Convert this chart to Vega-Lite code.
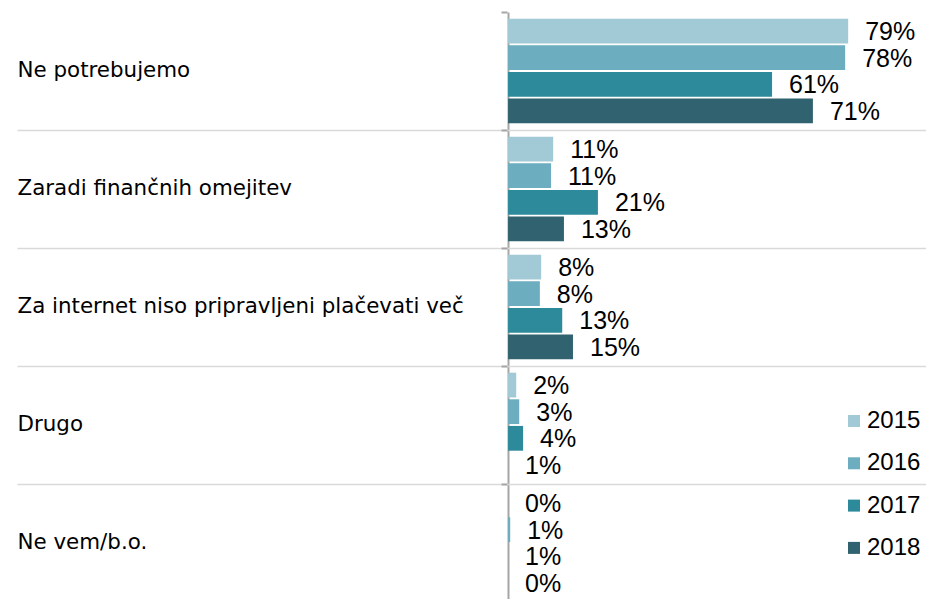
{
  "$schema": "https://vega.github.io/schema/vega-lite/v6.json",
  "autosize": "none",
  "width": 909,
  "height": 590,
  "padding": {"left": 17, "top": 12, "right": 0, "bottom": 0},
  "background": "white",
  "config": {"view": {"stroke": null}},
  "data": {"values": [
      {"cat": "Ne potrebujemo", "year": "2015", "value": 79.1, "label": "79%"},
      {"cat": "Ne potrebujemo", "year": "2016", "value": 78.4, "label": "78%"},
      {"cat": "Ne potrebujemo", "year": "2017", "value": 61.4, "label": "61%"},
      {"cat": "Ne potrebujemo", "year": "2018", "value": 70.9, "label": "71%"},
      {"cat": "Zaradi finančnih omejitev", "year": "2015", "value": 10.5, "label": "11%"},
      {"cat": "Zaradi finančnih omejitev", "year": "2016", "value": 10.0, "label": "11%"},
      {"cat": "Zaradi finančnih omejitev", "year": "2017", "value": 20.9, "label": "21%"},
      {"cat": "Zaradi finančnih omejitev", "year": "2018", "value": 13.0, "label": "13%"},
      {"cat": "Za internet niso pripravljeni plačevati več", "year": "2015", "value": 7.7, "label": "8%"},
      {"cat": "Za internet niso pripravljeni plačevati več", "year": "2016", "value": 7.4, "label": "8%"},
      {"cat": "Za internet niso pripravljeni plačevati več", "year": "2017", "value": 12.6, "label": "13%"},
      {"cat": "Za internet niso pripravljeni plačevati več", "year": "2018", "value": 15.1, "label": "15%"},
      {"cat": "Drugo", "year": "2015", "value": 1.9, "label": "2%"},
      {"cat": "Drugo", "year": "2016", "value": 2.6, "label": "3%"},
      {"cat": "Drugo", "year": "2017", "value": 3.5, "label": "4%"},
      {"cat": "Drugo", "year": "2018", "value": 0, "label": "1%"},
      {"cat": "Ne vem/b.o.", "year": "2015", "value": 0, "label": "0%"},
      {"cat": "Ne vem/b.o.", "year": "2016", "value": 0.5, "label": "1%"},
      {"cat": "Ne vem/b.o.", "year": "2017", "value": 0, "label": "1%"},
      {"cat": "Ne vem/b.o.", "year": "2018", "value": 0, "label": "0%"}
  ]},
  "resolve": {"axis": {"y": "independent"}},
  "layer": [
    {
      "mark": {"type": "bar"},
      "encoding": {
        "y": {
          "field": "cat",
          "type": "nominal",
          "sort": null,
          "scale": {"paddingInner": 0, "paddingOuter": 0},
          "axis": {"title": null, "domain": false, "ticks": false, "grid": true, "bandPosition": 0, "gridColor": "#d9d9d9", "gridWidth": 1.5, "gridOpacity": {"condition": {"test": "datum.value === 'Ne potrebujemo'", "value": 0}, "value": 1}, "labelAlign": "left", "labelPadding": 0, "labelFont": "DejaVu Sans", "labelFontSize": 21.4, "labelColor": "#000000", "labelLimit": 480}
        },
        "x": {"field": "value", "type": "quantitative", "scale": {"domain": [-114.2, 97.2], "nice": false, "zero": false}, "axis": {"values": [0], "grid": true, "gridColor": "#a6a6a6", "gridWidth": 2, "domain": false, "ticks": false, "labels": false, "title": null}},
        "yOffset": {"field": "year", "type": "nominal", "scale": {"paddingInner": 0.07, "paddingOuter": 0.25}},
        "color": {
          "field": "year",
          "type": "nominal",
          "scale": {"domain": ["2015", "2016", "2017", "2018"], "range": ["#a2cad6", "#6cadbf", "#2c8a9b", "#30636f"]},
          "legend": {"title": null, "orient": "none", "legendX": 825, "legendY": 397, "symbolType": "square", "symbolSize": 144, "labelFont": "Liberation Sans", "labelFontSize": 24, "labelColor": "#000000", "rowPadding": 18.3, "symbolStrokeWidth": 0, "labelOffset": 1}
        }
      }
    },
    {
      "mark": {"type": "text", "align": "left", "baseline": "middle", "dx": 17, "dy": 1, "font": "Liberation Sans", "fontSize": 25, "color": "#000000"},
      "encoding": {
        "y": {"field": "cat", "type": "nominal", "sort": null, "axis": {"orient": "right", "offset": -419, "title": null, "labels": false, "domain": false, "grid": false, "ticks": true, "bandPosition": 0, "tickSize": -6, "tickColor": "#a6a6a6", "tickWidth": 2}},
        "x": {"field": "value", "type": "quantitative"},
        "yOffset": {"field": "year", "type": "nominal"},
        "text": {"field": "label"}
      }
    }
  ]
}
